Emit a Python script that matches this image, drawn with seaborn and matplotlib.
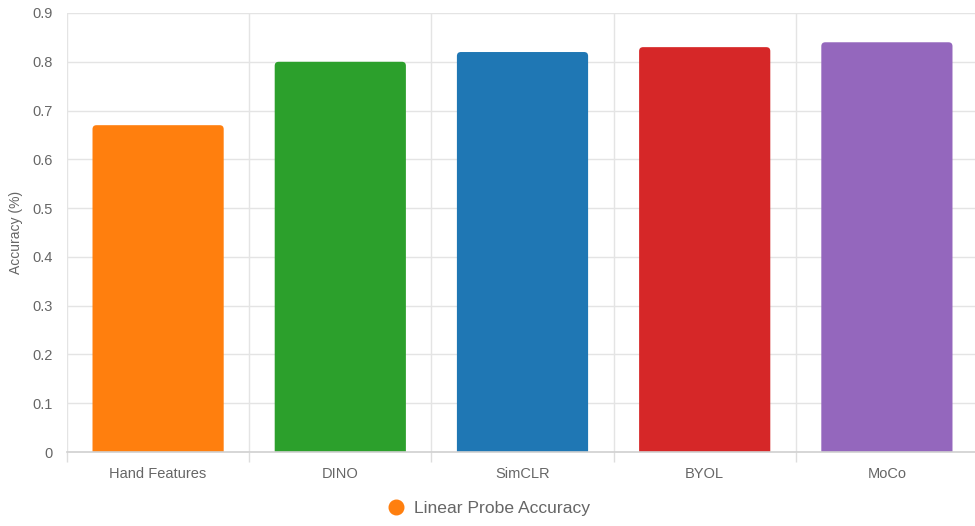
# plot.py
# Linear probe accuracy per method

import pandas as pd
import matplotlib.pyplot as plt
import seaborn as sns
from matplotlib.patches import FancyBboxPatch

# Data
methods = ['Hand Features', 'DINO', 'SimCLR', 'BYOL', 'MoCo']
accuracy = [0.67, 0.80, 0.82, 0.83, 0.84]
colors = ['#ff7f0e', '#2ca02c', '#1f77b4', '#d62728', '#9467bd']
y_ticks = [0, 0.1, 0.2, 0.3, 0.4, 0.5, 0.6, 0.7, 0.8, 0.9]
y_tick_labels = ['0', '0.1', '0.2', '0.3', '0.4', '0.5', '0.6', '0.7', '0.8', '0.9']
legend_label = 'Linear Probe Accuracy'

df = pd.DataFrame({'method': methods, 'accuracy': accuracy})

sns.set_style('white')
plt.rcParams['font.family'] = ['Liberation Sans', 'DejaVu Sans']

grid_col = '#e4e4e4'
text_col = '#666666'

fig = plt.figure(figsize=(9.75, 5.26), dpi=100)
ax_w = 911
ax = fig.add_axes([67 / 975, 1 - 452 / 526, ax_w / 975, 439 / 526])

sns.barplot(data=df, x='method', y='accuracy', hue='method', palette=colors,
            width=0.72, legend=False, ax=ax, saturation=1)

# swap the plain bars for ones with slightly rounded tops
ax.set_ylim(0, 0.9)
ax.set_xlim(-0.5, len(methods) - 0.5)
x_per_px = len(methods) / ax_w
y_per_px = 0.9 / 439
for p in list(ax.patches):
    x0, w, h = p.get_x(), p.get_width(), p.get_height()
    fc = p.get_facecolor()
    p.remove()
    r = 4 * x_per_px
    bar = FancyBboxPatch((x0, -0.02), w, h + 0.02,
                         boxstyle=f'round,pad=0,rounding_size={r}',
                         mutation_aspect=y_per_px / x_per_px,
                         facecolor=fc, edgecolor='none', zorder=3,
                         clip_on=True)
    ax.add_patch(bar)

# grid: horizontal at ticks, vertical at category borders
ax.set_yticks(y_ticks)
ax.set_yticklabels(y_tick_labels)
for y in y_ticks[1:]:
    ax.axhline(y, color=grid_col, lw=1, zorder=0)
for i in range(len(methods)):
    ax.axvline(i - 0.5, color=grid_col, lw=1, zorder=0)

for s in ['top', 'right', 'left']:
    ax.spines[s].set_visible(False)
ax.spines['bottom'].set_color('#d0d0d0')
ax.spines['bottom'].set_linewidth(1.2)
ax.spines['bottom'].set_zorder(4)

ax.tick_params(axis='y', length=6.5, color=grid_col, labelsize=10.5,
               labelcolor=text_col, pad=3.5, width=1)
ax.tick_params(axis='x', which='major', length=0, labelsize=10.5,
               labelcolor=text_col, pad=11)
# x tick marks at category borders
ax.set_xticks([i - 0.5 for i in range(len(methods))], minor=True)
ax.tick_params(axis='x', which='minor', bottom=True, length=7.5,
               color='#dddddd', width=1)

ax.set_xlabel('')
ax.set_ylabel('Accuracy (%)', fontsize=10, color=text_col, labelpad=7)

# legend at the bottom
handle = plt.Line2D([], [], marker='o', linestyle='none', markersize=10.5,
                    markerfacecolor=colors[0], markeredgecolor=colors[0])
fig.legend([handle], [legend_label], loc='center', bbox_to_anchor=(0.5, 1 - 508 / 526),
           frameon=False, fontsize=12.6, labelcolor=text_col, handletextpad=0.45,
           handlelength=1.2)

plt.savefig('out.png', dpi=100)
